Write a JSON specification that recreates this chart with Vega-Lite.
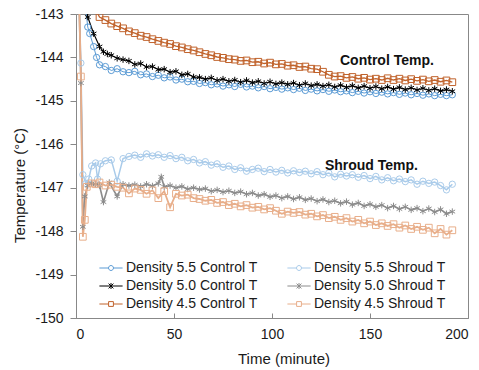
{
  "$schema": "https://vega.github.io/schema/vega-lite/v6.json",
  "autosize": "none",
  "width": 392,
  "height": 304,
  "padding": {"left": 76, "top": 14, "right": 11, "bottom": 52},
  "config": {
    "locale": {"number": {"decimal": ".", "thousands": ",", "grouping": [3], "currency": ["$", ""], "minus": "-"}},
    "view": {"stroke": "#888888", "strokeWidth": 1},
    "axis": {"grid": false, "domainColor": "#888888", "tickColor": "#888888", "labelFont": "Liberation Sans", "labelFontSize": 14, "labelColor": "#1a1a1a", "titleFont": "Liberation Sans", "titleFontSize": 15, "titleFontWeight": "normal", "titleColor": "#1a1a1a"}
  },
  "resolve": {"legend": {"color": "independent", "shape": "independent", "strokeWidth": "independent"}},
  "data": {"values": [
    {"series":"Density 5.5 Control T","time":3,"temp":-142.0},
    {"series":"Density 5.5 Control T","time":5,"temp":-142.9},
    {"series":"Density 5.5 Control T","time":6,"temp":-143.3},
    {"series":"Density 5.5 Control T","time":7,"temp":-143.45},
    {"series":"Density 5.5 Control T","time":9,"temp":-143.75},
    {"series":"Density 5.5 Control T","time":10.5,"temp":-144.0},
    {"series":"Density 5.5 Control T","time":12,"temp":-144.17},
    {"series":"Density 5.5 Control T","time":15,"temp":-144.21},
    {"series":"Density 5.5 Control T","time":18,"temp":-144.30},
    {"series":"Density 5.5 Control T","time":21,"temp":-144.26},
    {"series":"Density 5.5 Control T","time":24,"temp":-144.33},
    {"series":"Density 5.5 Control T","time":27,"temp":-144.35},
    {"series":"Density 5.5 Control T","time":30,"temp":-144.32},
    {"series":"Density 5.5 Control T","time":33,"temp":-144.40},
    {"series":"Density 5.5 Control T","time":36,"temp":-144.38},
    {"series":"Density 5.5 Control T","time":39,"temp":-144.44},
    {"series":"Density 5.5 Control T","time":42,"temp":-144.41},
    {"series":"Density 5.5 Control T","time":45,"temp":-144.47},
    {"series":"Density 5.5 Control T","time":48,"temp":-144.45},
    {"series":"Density 5.5 Control T","time":51,"temp":-144.52},
    {"series":"Density 5.5 Control T","time":54,"temp":-144.50},
    {"series":"Density 5.5 Control T","time":57,"temp":-144.56},
    {"series":"Density 5.5 Control T","time":60,"temp":-144.55},
    {"series":"Density 5.5 Control T","time":63,"temp":-144.60},
    {"series":"Density 5.5 Control T","time":66,"temp":-144.58},
    {"series":"Density 5.5 Control T","time":69,"temp":-144.63},
    {"series":"Density 5.5 Control T","time":72,"temp":-144.61},
    {"series":"Density 5.5 Control T","time":75,"temp":-144.66},
    {"series":"Density 5.5 Control T","time":78,"temp":-144.63},
    {"series":"Density 5.5 Control T","time":81,"temp":-144.67},
    {"series":"Density 5.5 Control T","time":84,"temp":-144.62},
    {"series":"Density 5.5 Control T","time":87,"temp":-144.68},
    {"series":"Density 5.5 Control T","time":90,"temp":-144.66},
    {"series":"Density 5.5 Control T","time":93,"temp":-144.70},
    {"series":"Density 5.5 Control T","time":96,"temp":-144.67},
    {"series":"Density 5.5 Control T","time":99,"temp":-144.72},
    {"series":"Density 5.5 Control T","time":102,"temp":-144.69},
    {"series":"Density 5.5 Control T","time":105,"temp":-144.73},
    {"series":"Density 5.5 Control T","time":108,"temp":-144.70},
    {"series":"Density 5.5 Control T","time":111,"temp":-144.74},
    {"series":"Density 5.5 Control T","time":114,"temp":-144.71},
    {"series":"Density 5.5 Control T","time":117,"temp":-144.76},
    {"series":"Density 5.5 Control T","time":120,"temp":-144.73},
    {"series":"Density 5.5 Control T","time":123,"temp":-144.77},
    {"series":"Density 5.5 Control T","time":126,"temp":-144.74},
    {"series":"Density 5.5 Control T","time":129,"temp":-144.78},
    {"series":"Density 5.5 Control T","time":132,"temp":-144.75},
    {"series":"Density 5.5 Control T","time":135,"temp":-144.79},
    {"series":"Density 5.5 Control T","time":138,"temp":-144.77},
    {"series":"Density 5.5 Control T","time":141,"temp":-144.81},
    {"series":"Density 5.5 Control T","time":144,"temp":-144.78},
    {"series":"Density 5.5 Control T","time":147,"temp":-144.82},
    {"series":"Density 5.5 Control T","time":150,"temp":-144.79},
    {"series":"Density 5.5 Control T","time":153,"temp":-144.83},
    {"series":"Density 5.5 Control T","time":156,"temp":-144.80},
    {"series":"Density 5.5 Control T","time":159,"temp":-144.84},
    {"series":"Density 5.5 Control T","time":162,"temp":-144.81},
    {"series":"Density 5.5 Control T","time":165,"temp":-144.85},
    {"series":"Density 5.5 Control T","time":168,"temp":-144.82},
    {"series":"Density 5.5 Control T","time":171,"temp":-144.86},
    {"series":"Density 5.5 Control T","time":174,"temp":-144.83},
    {"series":"Density 5.5 Control T","time":177,"temp":-144.87},
    {"series":"Density 5.5 Control T","time":180,"temp":-144.84},
    {"series":"Density 5.5 Control T","time":183,"temp":-144.88},
    {"series":"Density 5.5 Control T","time":186,"temp":-144.85},
    {"series":"Density 5.5 Control T","time":189,"temp":-144.88},
    {"series":"Density 5.5 Control T","time":192,"temp":-144.86},

    {"series":"Density 5.0 Control T","time":3,"temp":-142.0},
    {"series":"Density 5.0 Control T","time":6,"temp":-143.07},
    {"series":"Density 5.0 Control T","time":9,"temp":-143.45},
    {"series":"Density 5.0 Control T","time":12,"temp":-143.75},
    {"series":"Density 5.0 Control T","time":14,"temp":-143.87},
    {"series":"Density 5.0 Control T","time":16,"temp":-143.92},
    {"series":"Density 5.0 Control T","time":18,"temp":-143.95},
    {"series":"Density 5.0 Control T","time":21,"temp":-144.02},
    {"series":"Density 5.0 Control T","time":24,"temp":-144.05},
    {"series":"Density 5.0 Control T","time":27,"temp":-144.08},
    {"series":"Density 5.0 Control T","time":30,"temp":-144.16},
    {"series":"Density 5.0 Control T","time":33,"temp":-144.14},
    {"series":"Density 5.0 Control T","time":36,"temp":-144.22},
    {"series":"Density 5.0 Control T","time":39,"temp":-144.21},
    {"series":"Density 5.0 Control T","time":42,"temp":-144.28},
    {"series":"Density 5.0 Control T","time":45,"temp":-144.27},
    {"series":"Density 5.0 Control T","time":48,"temp":-144.34},
    {"series":"Density 5.0 Control T","time":51,"temp":-144.32},
    {"series":"Density 5.0 Control T","time":54,"temp":-144.40},
    {"series":"Density 5.0 Control T","time":57,"temp":-144.38},
    {"series":"Density 5.0 Control T","time":60,"temp":-144.45},
    {"series":"Density 5.0 Control T","time":63,"temp":-144.46},
    {"series":"Density 5.0 Control T","time":66,"temp":-144.50},
    {"series":"Density 5.0 Control T","time":69,"temp":-144.47},
    {"series":"Density 5.0 Control T","time":72,"temp":-144.53},
    {"series":"Density 5.0 Control T","time":75,"temp":-144.50},
    {"series":"Density 5.0 Control T","time":78,"temp":-144.55},
    {"series":"Density 5.0 Control T","time":81,"temp":-144.52},
    {"series":"Density 5.0 Control T","time":84,"temp":-144.57},
    {"series":"Density 5.0 Control T","time":87,"temp":-144.53},
    {"series":"Density 5.0 Control T","time":90,"temp":-144.58},
    {"series":"Density 5.0 Control T","time":93,"temp":-144.55},
    {"series":"Density 5.0 Control T","time":96,"temp":-144.60},
    {"series":"Density 5.0 Control T","time":99,"temp":-144.56},
    {"series":"Density 5.0 Control T","time":102,"temp":-144.61},
    {"series":"Density 5.0 Control T","time":105,"temp":-144.58},
    {"series":"Density 5.0 Control T","time":108,"temp":-144.62},
    {"series":"Density 5.0 Control T","time":111,"temp":-144.59},
    {"series":"Density 5.0 Control T","time":114,"temp":-144.64},
    {"series":"Density 5.0 Control T","time":117,"temp":-144.60},
    {"series":"Density 5.0 Control T","time":120,"temp":-144.65},
    {"series":"Density 5.0 Control T","time":123,"temp":-144.62},
    {"series":"Density 5.0 Control T","time":126,"temp":-144.66},
    {"series":"Density 5.0 Control T","time":129,"temp":-144.63},
    {"series":"Density 5.0 Control T","time":132,"temp":-144.68},
    {"series":"Density 5.0 Control T","time":135,"temp":-144.64},
    {"series":"Density 5.0 Control T","time":138,"temp":-144.69},
    {"series":"Density 5.0 Control T","time":141,"temp":-144.65},
    {"series":"Density 5.0 Control T","time":144,"temp":-144.70},
    {"series":"Density 5.0 Control T","time":147,"temp":-144.66},
    {"series":"Density 5.0 Control T","time":150,"temp":-144.71},
    {"series":"Density 5.0 Control T","time":153,"temp":-144.67},
    {"series":"Density 5.0 Control T","time":156,"temp":-144.72},
    {"series":"Density 5.0 Control T","time":159,"temp":-144.68},
    {"series":"Density 5.0 Control T","time":162,"temp":-144.73},
    {"series":"Density 5.0 Control T","time":165,"temp":-144.69},
    {"series":"Density 5.0 Control T","time":168,"temp":-144.74},
    {"series":"Density 5.0 Control T","time":171,"temp":-144.70},
    {"series":"Density 5.0 Control T","time":174,"temp":-144.75},
    {"series":"Density 5.0 Control T","time":177,"temp":-144.71},
    {"series":"Density 5.0 Control T","time":180,"temp":-144.76},
    {"series":"Density 5.0 Control T","time":183,"temp":-144.72},
    {"series":"Density 5.0 Control T","time":186,"temp":-144.77},
    {"series":"Density 5.0 Control T","time":189,"temp":-144.74},
    {"series":"Density 5.0 Control T","time":192,"temp":-144.78},

    {"series":"Density 4.5 Control T","time":3,"temp":-142.0},
    {"series":"Density 4.5 Control T","time":10,"temp":-142.9},
    {"series":"Density 4.5 Control T","time":12,"temp":-143.07},
    {"series":"Density 4.5 Control T","time":15,"temp":-143.14},
    {"series":"Density 4.5 Control T","time":18,"temp":-143.22},
    {"series":"Density 4.5 Control T","time":21,"temp":-143.28},
    {"series":"Density 4.5 Control T","time":24,"temp":-143.33},
    {"series":"Density 4.5 Control T","time":27,"temp":-143.40},
    {"series":"Density 4.5 Control T","time":30,"temp":-143.44},
    {"series":"Density 4.5 Control T","time":33,"temp":-143.50},
    {"series":"Density 4.5 Control T","time":36,"temp":-143.53},
    {"series":"Density 4.5 Control T","time":39,"temp":-143.58},
    {"series":"Density 4.5 Control T","time":42,"temp":-143.62},
    {"series":"Density 4.5 Control T","time":45,"temp":-143.66},
    {"series":"Density 4.5 Control T","time":48,"temp":-143.69},
    {"series":"Density 4.5 Control T","time":51,"temp":-143.74},
    {"series":"Density 4.5 Control T","time":54,"temp":-143.77},
    {"series":"Density 4.5 Control T","time":57,"temp":-143.81},
    {"series":"Density 4.5 Control T","time":60,"temp":-143.84},
    {"series":"Density 4.5 Control T","time":63,"temp":-143.88},
    {"series":"Density 4.5 Control T","time":66,"temp":-143.92},
    {"series":"Density 4.5 Control T","time":69,"temp":-143.95},
    {"series":"Density 4.5 Control T","time":72,"temp":-143.99},
    {"series":"Density 4.5 Control T","time":75,"temp":-144.01},
    {"series":"Density 4.5 Control T","time":78,"temp":-144.04},
    {"series":"Density 4.5 Control T","time":81,"temp":-144.05},
    {"series":"Density 4.5 Control T","time":84,"temp":-144.08},
    {"series":"Density 4.5 Control T","time":87,"temp":-144.07},
    {"series":"Density 4.5 Control T","time":90,"temp":-144.11},
    {"series":"Density 4.5 Control T","time":93,"temp":-144.10},
    {"series":"Density 4.5 Control T","time":96,"temp":-144.14},
    {"series":"Density 4.5 Control T","time":99,"temp":-144.12},
    {"series":"Density 4.5 Control T","time":102,"temp":-144.16},
    {"series":"Density 4.5 Control T","time":105,"temp":-144.15},
    {"series":"Density 4.5 Control T","time":108,"temp":-144.19},
    {"series":"Density 4.5 Control T","time":111,"temp":-144.18},
    {"series":"Density 4.5 Control T","time":114,"temp":-144.22},
    {"series":"Density 4.5 Control T","time":117,"temp":-144.21},
    {"series":"Density 4.5 Control T","time":120,"temp":-144.26},
    {"series":"Density 4.5 Control T","time":123,"temp":-144.27},
    {"series":"Density 4.5 Control T","time":126,"temp":-144.33},
    {"series":"Density 4.5 Control T","time":129,"temp":-144.40},
    {"series":"Density 4.5 Control T","time":132,"temp":-144.44},
    {"series":"Density 4.5 Control T","time":135,"temp":-144.43},
    {"series":"Density 4.5 Control T","time":138,"temp":-144.47},
    {"series":"Density 4.5 Control T","time":141,"temp":-144.45},
    {"series":"Density 4.5 Control T","time":144,"temp":-144.49},
    {"series":"Density 4.5 Control T","time":147,"temp":-144.47},
    {"series":"Density 4.5 Control T","time":150,"temp":-144.51},
    {"series":"Density 4.5 Control T","time":153,"temp":-144.49},
    {"series":"Density 4.5 Control T","time":156,"temp":-144.52},
    {"series":"Density 4.5 Control T","time":159,"temp":-144.48},
    {"series":"Density 4.5 Control T","time":162,"temp":-144.52},
    {"series":"Density 4.5 Control T","time":165,"temp":-144.49},
    {"series":"Density 4.5 Control T","time":168,"temp":-144.53},
    {"series":"Density 4.5 Control T","time":171,"temp":-144.50},
    {"series":"Density 4.5 Control T","time":174,"temp":-144.54},
    {"series":"Density 4.5 Control T","time":177,"temp":-144.51},
    {"series":"Density 4.5 Control T","time":180,"temp":-144.55},
    {"series":"Density 4.5 Control T","time":183,"temp":-144.52},
    {"series":"Density 4.5 Control T","time":186,"temp":-144.56},
    {"series":"Density 4.5 Control T","time":189,"temp":-144.53},
    {"series":"Density 4.5 Control T","time":192,"temp":-144.57},

    {"series":"Density 5.5 Shroud T","time":1.5,"temp":-142.5},
    {"series":"Density 5.5 Shroud T","time":2.5,"temp":-144.13},
    {"series":"Density 5.5 Shroud T","time":3.5,"temp":-146.7},
    {"series":"Density 5.5 Shroud T","time":5,"temp":-146.9},
    {"series":"Density 5.5 Shroud T","time":6.5,"temp":-146.8},
    {"series":"Density 5.5 Shroud T","time":8,"temp":-146.5},
    {"series":"Density 5.5 Shroud T","time":10,"temp":-146.43},
    {"series":"Density 5.5 Shroud T","time":11,"temp":-146.8},
    {"series":"Density 5.5 Shroud T","time":12.5,"temp":-146.45},
    {"series":"Density 5.5 Shroud T","time":15,"temp":-146.38},
    {"series":"Density 5.5 Shroud T","time":18,"temp":-146.36},
    {"series":"Density 5.5 Shroud T","time":21,"temp":-146.85},
    {"series":"Density 5.5 Shroud T","time":24,"temp":-146.33},
    {"series":"Density 5.5 Shroud T","time":27,"temp":-146.28},
    {"series":"Density 5.5 Shroud T","time":30,"temp":-146.25},
    {"series":"Density 5.5 Shroud T","time":33,"temp":-146.30},
    {"series":"Density 5.5 Shroud T","time":36,"temp":-146.22},
    {"series":"Density 5.5 Shroud T","time":39,"temp":-146.27},
    {"series":"Density 5.5 Shroud T","time":42,"temp":-146.24},
    {"series":"Density 5.5 Shroud T","time":45,"temp":-146.30},
    {"series":"Density 5.5 Shroud T","time":48,"temp":-146.26},
    {"series":"Density 5.5 Shroud T","time":51,"temp":-146.33},
    {"series":"Density 5.5 Shroud T","time":54,"temp":-146.30},
    {"series":"Density 5.5 Shroud T","time":57,"temp":-146.38},
    {"series":"Density 5.5 Shroud T","time":60,"temp":-146.35},
    {"series":"Density 5.5 Shroud T","time":63,"temp":-146.43},
    {"series":"Density 5.5 Shroud T","time":66,"temp":-146.40},
    {"series":"Density 5.5 Shroud T","time":69,"temp":-146.48},
    {"series":"Density 5.5 Shroud T","time":72,"temp":-146.45},
    {"series":"Density 5.5 Shroud T","time":75,"temp":-146.53},
    {"series":"Density 5.5 Shroud T","time":78,"temp":-146.50},
    {"series":"Density 5.5 Shroud T","time":81,"temp":-146.58},
    {"series":"Density 5.5 Shroud T","time":84,"temp":-146.54},
    {"series":"Density 5.5 Shroud T","time":87,"temp":-146.62},
    {"series":"Density 5.5 Shroud T","time":90,"temp":-146.58},
    {"series":"Density 5.5 Shroud T","time":93,"temp":-146.55},
    {"series":"Density 5.5 Shroud T","time":96,"temp":-146.63},
    {"series":"Density 5.5 Shroud T","time":99,"temp":-146.58},
    {"series":"Density 5.5 Shroud T","time":102,"temp":-146.64},
    {"series":"Density 5.5 Shroud T","time":105,"temp":-146.60},
    {"series":"Density 5.5 Shroud T","time":108,"temp":-146.66},
    {"series":"Density 5.5 Shroud T","time":111,"temp":-146.61},
    {"series":"Density 5.5 Shroud T","time":114,"temp":-146.65},
    {"series":"Density 5.5 Shroud T","time":117,"temp":-146.62},
    {"series":"Density 5.5 Shroud T","time":120,"temp":-146.68},
    {"series":"Density 5.5 Shroud T","time":123,"temp":-146.63},
    {"series":"Density 5.5 Shroud T","time":126,"temp":-146.70},
    {"series":"Density 5.5 Shroud T","time":129,"temp":-146.66},
    {"series":"Density 5.5 Shroud T","time":132,"temp":-146.75},
    {"series":"Density 5.5 Shroud T","time":135,"temp":-146.69},
    {"series":"Density 5.5 Shroud T","time":138,"temp":-146.73},
    {"series":"Density 5.5 Shroud T","time":141,"temp":-146.70},
    {"series":"Density 5.5 Shroud T","time":144,"temp":-146.76},
    {"series":"Density 5.5 Shroud T","time":147,"temp":-146.72},
    {"series":"Density 5.5 Shroud T","time":150,"temp":-146.79},
    {"series":"Density 5.5 Shroud T","time":153,"temp":-146.74},
    {"series":"Density 5.5 Shroud T","time":156,"temp":-146.82},
    {"series":"Density 5.5 Shroud T","time":159,"temp":-146.77},
    {"series":"Density 5.5 Shroud T","time":162,"temp":-146.84},
    {"series":"Density 5.5 Shroud T","time":165,"temp":-146.80},
    {"series":"Density 5.5 Shroud T","time":168,"temp":-146.86},
    {"series":"Density 5.5 Shroud T","time":171,"temp":-146.82},
    {"series":"Density 5.5 Shroud T","time":174,"temp":-146.92},
    {"series":"Density 5.5 Shroud T","time":177,"temp":-146.85},
    {"series":"Density 5.5 Shroud T","time":180,"temp":-146.90},
    {"series":"Density 5.5 Shroud T","time":183,"temp":-146.87},
    {"series":"Density 5.5 Shroud T","time":186,"temp":-146.95},
    {"series":"Density 5.5 Shroud T","time":189,"temp":-147.05},
    {"series":"Density 5.5 Shroud T","time":192,"temp":-146.92},

    {"series":"Density 5.0 Shroud T","time":1.5,"temp":-142.5},
    {"series":"Density 5.0 Shroud T","time":2.5,"temp":-144.59},
    {"series":"Density 5.0 Shroud T","time":3.5,"temp":-147.9},
    {"series":"Density 5.0 Shroud T","time":4.5,"temp":-147.2},
    {"series":"Density 5.0 Shroud T","time":6,"temp":-146.95},
    {"series":"Density 5.0 Shroud T","time":8,"temp":-146.9},
    {"series":"Density 5.0 Shroud T","time":10,"temp":-146.92},
    {"series":"Density 5.0 Shroud T","time":12,"temp":-146.95},
    {"series":"Density 5.0 Shroud T","time":14,"temp":-147.33},
    {"series":"Density 5.0 Shroud T","time":17,"temp":-146.88},
    {"series":"Density 5.0 Shroud T","time":21,"temp":-147.2},
    {"series":"Density 5.0 Shroud T","time":24,"temp":-146.92},
    {"series":"Density 5.0 Shroud T","time":27,"temp":-146.95},
    {"series":"Density 5.0 Shroud T","time":30,"temp":-146.93},
    {"series":"Density 5.0 Shroud T","time":33,"temp":-146.97},
    {"series":"Density 5.0 Shroud T","time":36,"temp":-146.92},
    {"series":"Density 5.0 Shroud T","time":39,"temp":-146.96},
    {"series":"Density 5.0 Shroud T","time":42,"temp":-146.90},
    {"series":"Density 5.0 Shroud T","time":43.5,"temp":-146.75},
    {"series":"Density 5.0 Shroud T","time":45,"temp":-146.98},
    {"series":"Density 5.0 Shroud T","time":48,"temp":-146.95},
    {"series":"Density 5.0 Shroud T","time":51,"temp":-147.00},
    {"series":"Density 5.0 Shroud T","time":54,"temp":-146.97},
    {"series":"Density 5.0 Shroud T","time":57,"temp":-147.03},
    {"series":"Density 5.0 Shroud T","time":60,"temp":-147.00},
    {"series":"Density 5.0 Shroud T","time":63,"temp":-147.04},
    {"series":"Density 5.0 Shroud T","time":66,"temp":-147.02},
    {"series":"Density 5.0 Shroud T","time":69,"temp":-147.08},
    {"series":"Density 5.0 Shroud T","time":72,"temp":-147.05},
    {"series":"Density 5.0 Shroud T","time":75,"temp":-147.10},
    {"series":"Density 5.0 Shroud T","time":78,"temp":-147.07},
    {"series":"Density 5.0 Shroud T","time":81,"temp":-147.12},
    {"series":"Density 5.0 Shroud T","time":84,"temp":-147.09},
    {"series":"Density 5.0 Shroud T","time":87,"temp":-147.15},
    {"series":"Density 5.0 Shroud T","time":90,"temp":-147.12},
    {"series":"Density 5.0 Shroud T","time":93,"temp":-147.18},
    {"series":"Density 5.0 Shroud T","time":96,"temp":-147.15},
    {"series":"Density 5.0 Shroud T","time":99,"temp":-147.21},
    {"series":"Density 5.0 Shroud T","time":102,"temp":-147.18},
    {"series":"Density 5.0 Shroud T","time":105,"temp":-147.24},
    {"series":"Density 5.0 Shroud T","time":108,"temp":-147.20},
    {"series":"Density 5.0 Shroud T","time":111,"temp":-147.26},
    {"series":"Density 5.0 Shroud T","time":114,"temp":-147.22},
    {"series":"Density 5.0 Shroud T","time":117,"temp":-147.28},
    {"series":"Density 5.0 Shroud T","time":120,"temp":-147.25},
    {"series":"Density 5.0 Shroud T","time":123,"temp":-147.31},
    {"series":"Density 5.0 Shroud T","time":126,"temp":-147.27},
    {"series":"Density 5.0 Shroud T","time":129,"temp":-147.33},
    {"series":"Density 5.0 Shroud T","time":132,"temp":-147.30},
    {"series":"Density 5.0 Shroud T","time":135,"temp":-147.36},
    {"series":"Density 5.0 Shroud T","time":138,"temp":-147.32},
    {"series":"Density 5.0 Shroud T","time":141,"temp":-147.39},
    {"series":"Density 5.0 Shroud T","time":144,"temp":-147.35},
    {"series":"Density 5.0 Shroud T","time":147,"temp":-147.42},
    {"series":"Density 5.0 Shroud T","time":150,"temp":-147.38},
    {"series":"Density 5.0 Shroud T","time":153,"temp":-147.44},
    {"series":"Density 5.0 Shroud T","time":156,"temp":-147.40},
    {"series":"Density 5.0 Shroud T","time":159,"temp":-147.47},
    {"series":"Density 5.0 Shroud T","time":162,"temp":-147.42},
    {"series":"Density 5.0 Shroud T","time":165,"temp":-147.49},
    {"series":"Density 5.0 Shroud T","time":168,"temp":-147.44},
    {"series":"Density 5.0 Shroud T","time":171,"temp":-147.51},
    {"series":"Density 5.0 Shroud T","time":174,"temp":-147.47},
    {"series":"Density 5.0 Shroud T","time":177,"temp":-147.54},
    {"series":"Density 5.0 Shroud T","time":180,"temp":-147.48},
    {"series":"Density 5.0 Shroud T","time":183,"temp":-147.56},
    {"series":"Density 5.0 Shroud T","time":186,"temp":-147.50},
    {"series":"Density 5.0 Shroud T","time":189,"temp":-147.60},
    {"series":"Density 5.0 Shroud T","time":192,"temp":-147.55},

    {"series":"Density 4.5 Shroud T","time":1.5,"temp":-142.5},
    {"series":"Density 4.5 Shroud T","time":2.5,"temp":-144.44},
    {"series":"Density 4.5 Shroud T","time":3.5,"temp":-148.13},
    {"series":"Density 4.5 Shroud T","time":4.5,"temp":-147.74},
    {"series":"Density 4.5 Shroud T","time":5.5,"temp":-146.98},
    {"series":"Density 4.5 Shroud T","time":8,"temp":-146.9},
    {"series":"Density 4.5 Shroud T","time":10,"temp":-146.92},
    {"series":"Density 4.5 Shroud T","time":12,"temp":-146.88},
    {"series":"Density 4.5 Shroud T","time":15,"temp":-146.95},
    {"series":"Density 4.5 Shroud T","time":18,"temp":-146.93},
    {"series":"Density 4.5 Shroud T","time":21,"temp":-146.98},
    {"series":"Density 4.5 Shroud T","time":24,"temp":-147.00},
    {"series":"Density 4.5 Shroud T","time":27,"temp":-147.13},
    {"series":"Density 4.5 Shroud T","time":30,"temp":-147.02},
    {"series":"Density 4.5 Shroud T","time":33,"temp":-147.05},
    {"series":"Density 4.5 Shroud T","time":36,"temp":-147.14},
    {"series":"Density 4.5 Shroud T","time":39,"temp":-147.06},
    {"series":"Density 4.5 Shroud T","time":42,"temp":-147.24},
    {"series":"Density 4.5 Shroud T","time":45,"temp":-147.08},
    {"series":"Density 4.5 Shroud T","time":48,"temp":-147.45},
    {"series":"Density 4.5 Shroud T","time":51,"temp":-147.14},
    {"series":"Density 4.5 Shroud T","time":54,"temp":-147.18},
    {"series":"Density 4.5 Shroud T","time":57,"temp":-147.16},
    {"series":"Density 4.5 Shroud T","time":60,"temp":-147.24},
    {"series":"Density 4.5 Shroud T","time":63,"temp":-147.26},
    {"series":"Density 4.5 Shroud T","time":66,"temp":-147.30},
    {"series":"Density 4.5 Shroud T","time":69,"temp":-147.28},
    {"series":"Density 4.5 Shroud T","time":72,"temp":-147.35},
    {"series":"Density 4.5 Shroud T","time":75,"temp":-147.33},
    {"series":"Density 4.5 Shroud T","time":78,"temp":-147.40},
    {"series":"Density 4.5 Shroud T","time":81,"temp":-147.37},
    {"series":"Density 4.5 Shroud T","time":84,"temp":-147.43},
    {"series":"Density 4.5 Shroud T","time":87,"temp":-147.40},
    {"series":"Density 4.5 Shroud T","time":90,"temp":-147.46},
    {"series":"Density 4.5 Shroud T","time":93,"temp":-147.44},
    {"series":"Density 4.5 Shroud T","time":96,"temp":-147.50},
    {"series":"Density 4.5 Shroud T","time":99,"temp":-147.47},
    {"series":"Density 4.5 Shroud T","time":102,"temp":-147.53},
    {"series":"Density 4.5 Shroud T","time":105,"temp":-147.60},
    {"series":"Density 4.5 Shroud T","time":108,"temp":-147.55},
    {"series":"Density 4.5 Shroud T","time":111,"temp":-147.58},
    {"series":"Density 4.5 Shroud T","time":114,"temp":-147.56},
    {"series":"Density 4.5 Shroud T","time":117,"temp":-147.62},
    {"series":"Density 4.5 Shroud T","time":120,"temp":-147.60},
    {"series":"Density 4.5 Shroud T","time":123,"temp":-147.66},
    {"series":"Density 4.5 Shroud T","time":126,"temp":-147.63},
    {"series":"Density 4.5 Shroud T","time":129,"temp":-147.70},
    {"series":"Density 4.5 Shroud T","time":132,"temp":-147.67},
    {"series":"Density 4.5 Shroud T","time":135,"temp":-147.74},
    {"series":"Density 4.5 Shroud T","time":138,"temp":-147.70},
    {"series":"Density 4.5 Shroud T","time":141,"temp":-147.78},
    {"series":"Density 4.5 Shroud T","time":144,"temp":-147.74},
    {"series":"Density 4.5 Shroud T","time":147,"temp":-147.82},
    {"series":"Density 4.5 Shroud T","time":150,"temp":-147.78},
    {"series":"Density 4.5 Shroud T","time":153,"temp":-147.86},
    {"series":"Density 4.5 Shroud T","time":156,"temp":-147.82},
    {"series":"Density 4.5 Shroud T","time":159,"temp":-147.88},
    {"series":"Density 4.5 Shroud T","time":162,"temp":-147.84},
    {"series":"Density 4.5 Shroud T","time":165,"temp":-147.92},
    {"series":"Density 4.5 Shroud T","time":168,"temp":-147.87},
    {"series":"Density 4.5 Shroud T","time":171,"temp":-147.95},
    {"series":"Density 4.5 Shroud T","time":174,"temp":-147.90},
    {"series":"Density 4.5 Shroud T","time":177,"temp":-147.97},
    {"series":"Density 4.5 Shroud T","time":180,"temp":-147.92},
    {"series":"Density 4.5 Shroud T","time":183,"temp":-148.05},
    {"series":"Density 4.5 Shroud T","time":186,"temp":-147.95},
    {"series":"Density 4.5 Shroud T","time":189,"temp":-148.08},
    {"series":"Density 4.5 Shroud T","time":192,"temp":-147.98}
  ]},
  "encoding": {
    "x": {"field": "time", "type": "quantitative", "scale": {"domain": [0, 200], "nice": false, "zero": false},
      "axis": {"title": "Time (minute)", "values": [0, 50, 100, 150, 200], "tickSize": -5, "labelPadding": 14, "titleX": 207.5, "titleY": 45, "titleAlign": "center", "titleBaseline": "alphabetic"}},
    "y": {"field": "temp", "type": "quantitative", "scale": {"domain": [-150, -143], "nice": false, "zero": false},
      "axis": {"title": "Temperature (°C)", "values": [-150, -149, -148, -147, -146, -145, -144, -143], "format": "d", "tickSize": 6, "labelPadding": 7, "titleX": -52, "titleY": 171, "titleAlign": "center", "titleBaseline": "alphabetic", "titleAngle": -90}}
  },
  "layer": [
    {
      "mark": {"type": "line", "clip": true},
      "encoding": {
        "color": {"field": "series", "type": "nominal", "legend": null,
          "scale": {"domain": ["Density 5.5 Control T", "Density 5.0 Control T", "Density 4.5 Control T", "Density 5.5 Shroud T", "Density 5.0 Shroud T", "Density 4.5 Shroud T"],
                    "range": ["#5B9BD5", "#000000", "#C0622B", "#A9CBEA", "#8C8C8C", "#E8AE8A"]}},
        "strokeWidth": {"field": "series", "type": "nominal", "legend": null,
          "scale": {"domain": ["Density 5.5 Control T", "Density 5.0 Control T", "Density 4.5 Control T", "Density 5.5 Shroud T", "Density 5.0 Shroud T", "Density 4.5 Shroud T"],
                    "range": [1, 1.8, 1, 0.8, 0.8, 0.8]}}
      }
    },
    {
      "transform": [{"filter": {"field": "series", "oneOf": ["Density 5.5 Control T", "Density 5.5 Shroud T"]}}],
      "mark": {"type": "point", "shape": "circle", "filled": false, "size": 40, "strokeWidth": 1, "opacity": 1, "clip": true},
      "encoding": {"color": {"field": "series", "type": "nominal", "legend": null}}
    },
    {
      "transform": [{"filter": {"field": "series", "oneOf": ["Density 5.0 Control T", "Density 5.0 Shroud T"]}}],
      "mark": {"type": "point", "shape": "M0,-1V1M-0.87,-0.5L0.87,0.5M-0.87,0.5L0.87,-0.5", "filled": false, "size": 42, "strokeWidth": 1, "opacity": 1, "clip": true},
      "encoding": {"color": {"field": "series", "type": "nominal", "legend": null}}
    },
    {
      "transform": [{"filter": {"field": "series", "oneOf": ["Density 4.5 Control T", "Density 4.5 Shroud T"]}}],
      "mark": {"type": "point", "shape": "square", "filled": false, "size": 45, "strokeWidth": 1, "opacity": 1, "clip": true},
      "encoding": {"color": {"field": "series", "type": "nominal", "legend": null}}
    },
    {
      "transform": [{"filter": "datum.time < 0"}],
      "mark": {"type": "point", "filled": false, "clip": true},
      "encoding": {
        "color": {"field": "series", "type": "nominal",
          "legend": {"title": null, "orient": "none", "legendX": 28, "legendY": 247, "columns": 2, "columnPadding": 27, "rowPadding": 4, "padding": 0, "labelFont": "Liberation Sans", "labelFontSize": 14, "labelColor": "#1a1a1a", "labelOffset": 8, "symbolSize": 64, "symbolStrokeWidth": 1, "symbolOpacity": 1, "labelLimit": 300}},
        "shape": {"field": "series", "type": "nominal",
          "scale": {"domain": ["Density 5.5 Control T", "Density 5.0 Control T", "Density 4.5 Control T", "Density 5.5 Shroud T", "Density 5.0 Shroud T", "Density 4.5 Shroud T"],
                    "range": [
                      "M-2.9,0H-0.62M0.62,0H2.9M-0.62,0A0.62,0.62 0 1,0 0.62,0A0.62,0.62 0 1,0 -0.62,0",
                      "M-2.9,0H2.9M0,-0.75V0.75M-0.6,-0.6L0.6,0.6M-0.6,0.6L0.6,-0.6",
                      "M-2.9,0H-0.6M0.6,0H2.9M-0.6,-0.6H0.6V0.6H-0.6Z",
                      "M-2.9,0H-0.62M0.62,0H2.9M-0.62,0A0.62,0.62 0 1,0 0.62,0A0.62,0.62 0 1,0 -0.62,0",
                      "M-2.9,0H2.9M0,-0.75V0.75M-0.6,-0.6L0.6,0.6M-0.6,0.6L0.6,-0.6",
                      "M-2.9,0H-0.6M0.6,0H2.9M-0.6,-0.6H0.6V0.6H-0.6Z"
                    ]},
          "legend": {"title": null, "orient": "none", "legendX": 28, "legendY": 247, "columns": 2, "columnPadding": 27, "rowPadding": 4, "padding": 0, "labelFont": "Liberation Sans", "labelFontSize": 14, "labelColor": "#1a1a1a", "labelOffset": 8, "symbolSize": 64, "symbolStrokeWidth": 1, "symbolOpacity": 1, "labelLimit": 300}}
      }
    },
    {
      "data": {"values": [
        {"label": "Control Temp.", "time": 134.7, "temp": -144.17},
        {"label": "Shroud Temp.", "time": 127, "temp": -146.59}
      ]},
      "mark": {"type": "text", "align": "left", "baseline": "alphabetic", "font": "Liberation Sans", "fontSize": 14, "fontWeight": "bold", "color": "#111111"},
      "encoding": {"text": {"field": "label", "type": "nominal"}}
    }
  ]
}
